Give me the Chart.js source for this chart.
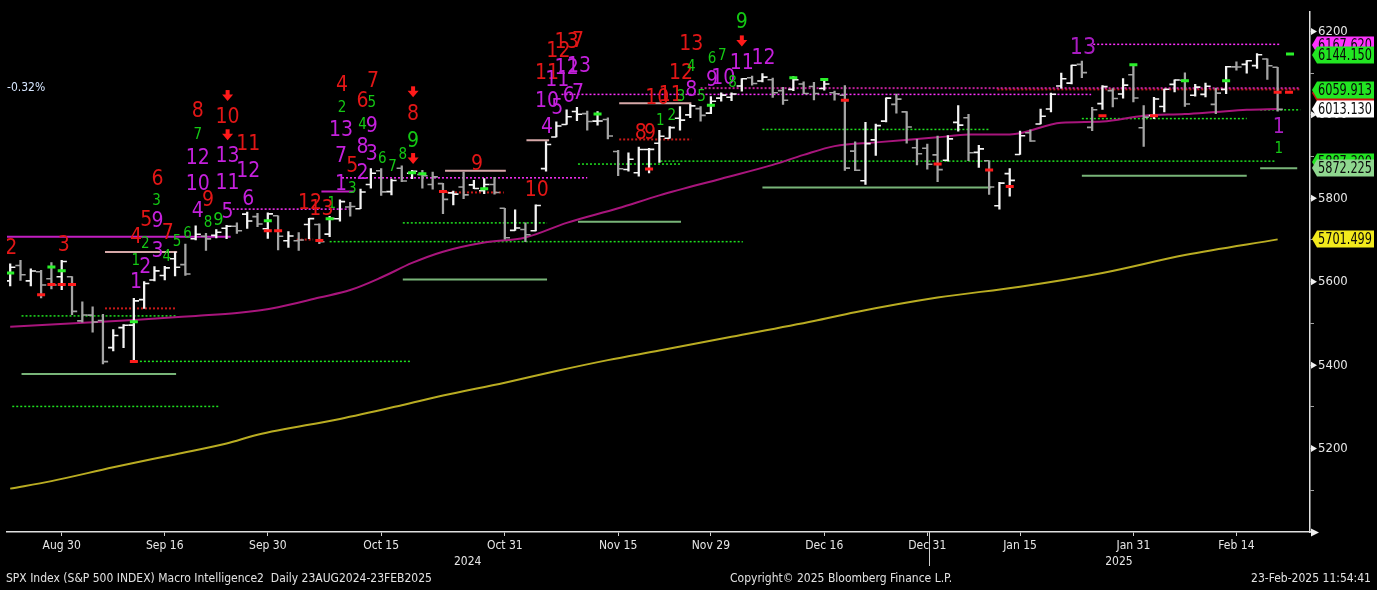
<!DOCTYPE html>
<html>
<head>
<meta charset="utf-8">
<script src="https://cdn.jsdelivr.net/npm/chart.js@4.4.1/dist/chart.umd.min.js"></script>
<style>
  html,body{margin:0;padding:0;background:#000;}
  #wrap{position:relative;width:1377px;height:590px;background:#000;overflow:hidden;}
  .t{position:absolute;color:#e2e2e2;font:12px "DejaVu Sans Condensed","Liberation Sans Narrow","Liberation Sans",sans-serif;white-space:pre;line-height:14px;}
</style>
</head>
<body>
<div id="wrap">
  <canvas id="c" width="1377" height="590"></canvas>
  <div class="t" style="left:7px;top:80px;color:#d6e6ff;">-0.32%</div>
  <div class="t" style="left:6px;top:571px;">SPX Index (S&amp;P 500 INDEX) Macro Intelligence2  Daily 23AUG2024-23FEB2025</div>
  <div class="t" style="left:730px;top:571px;">Copyright© 2025 Bloomberg Finance L.P.</div>
  <div class="t" style="right:6px;top:571px;">23-Feb-2025 11:54:41</div>
</div>
<script>
// ---------------- DATA ----------------
const dates = ['2024-08-23','2024-08-26','2024-08-27','2024-08-28','2024-08-29','2024-08-30','2024-09-03','2024-09-04','2024-09-05','2024-09-06',
'2024-09-09','2024-09-10','2024-09-11','2024-09-12','2024-09-13','2024-09-16','2024-09-17','2024-09-18','2024-09-19','2024-09-20',
'2024-09-23','2024-09-24','2024-09-25','2024-09-26','2024-09-27','2024-09-30','2024-10-01','2024-10-02','2024-10-03','2024-10-04',
'2024-10-07','2024-10-08','2024-10-09','2024-10-10','2024-10-11','2024-10-14','2024-10-15','2024-10-16','2024-10-17','2024-10-18',
'2024-10-21','2024-10-22','2024-10-23','2024-10-24','2024-10-25','2024-10-28','2024-10-29','2024-10-30','2024-10-31','2024-11-01',
'2024-11-04','2024-11-05','2024-11-06','2024-11-07','2024-11-08','2024-11-11','2024-11-12','2024-11-13','2024-11-14','2024-11-15',
'2024-11-18','2024-11-19','2024-11-20','2024-11-21','2024-11-22','2024-11-25','2024-11-26','2024-11-27','2024-11-29','2024-12-02',
'2024-12-03','2024-12-04','2024-12-05','2024-12-06','2024-12-09','2024-12-10','2024-12-11','2024-12-12','2024-12-13','2024-12-16',
'2024-12-17','2024-12-18','2024-12-19','2024-12-20','2024-12-23','2024-12-24','2024-12-26','2024-12-27','2024-12-30','2024-12-31',
'2025-01-02','2025-01-03','2025-01-06','2025-01-07','2025-01-08','2025-01-10','2025-01-13','2025-01-14','2025-01-15','2025-01-16',
'2025-01-17','2025-01-21','2025-01-22','2025-01-23','2025-01-24','2025-01-27','2025-01-28','2025-01-29','2025-01-30','2025-01-31',
'2025-02-03','2025-02-04','2025-02-05','2025-02-06','2025-02-07','2025-02-10','2025-02-11','2025-02-12','2025-02-13','2025-02-14',
'2025-02-18','2025-02-19','2025-02-20','2025-02-21'];

const opens = [5602,5639,5602,5624,5607,5612,5612,5506,5520,5507,
5442,5490,5496,5557,5604,5615,5655,5641,5703,5709,
5711,5728,5733,5762,5756,5727,5758,5698,5698,5737,
5737,5714,5751,5779,5775,5833,5866,5816,5872,5860,
5857,5833,5835,5813,5827,5832,5818,5833,5776,5723,
5725,5722,5871,5947,5977,6008,6003,5985,5989,5912,
5869,5861,5917,5932,5944,5992,6000,6015,6004,6040,
6042,6069,6089,6081,6084,6058,6061,6074,6068,6063,
6053,6047,5913,5842,5940,5985,6025,6007,5921,5920,
5904,5891,5982,5993,5910,5890,5782,5859,5905,5957,
5978,6014,6069,6076,6121,5970,6027,6058,6050,6096,
5969,5998,6020,6073,6083,6047,6049,6025,6061,6115,
6121,6118,6134,6114];

const highs = [5643,5651,5631,5627,5646,5651,5612,5552,5540,5522,
5485,5497,5560,5600,5636,5637,5671,5690,5734,5716,
5725,5735,5741,5767,5764,5765,5758,5720,5718,5752,
5739,5757,5796,5790,5822,5871,5871,5846,5878,5867,
5867,5863,5836,5817,5863,5843,5847,5850,5776,5772,
5741,5784,5936,5983,6012,6018,6009,6008,5993,5915,
5909,5923,5920,5963,5972,6020,6025,6020,6044,6053,
6053,6087,6093,6099,6088,6066,6092,6079,6078,6085,
6057,6070,5935,5982,5978,6041,6050,6008,5941,5930,
5949,5950,6022,6001,5927,5890,5838,5871,5961,5964,
6014,6052,6100,6119,6129,6018,6070,6063,6087,6121,
6022,6042,6062,6084,6101,6073,6076,6064,6116,6127,
6130,6147,6134,6114];

const lows = [5590,5603,5590,5561,5583,5581,5521,5503,5479,5403,
5434,5442,5407,5536,5602,5604,5614,5615,5700,5675,
5705,5703,5716,5728,5732,5704,5676,5682,5675,5703,
5691,5708,5745,5757,5775,5824,5807,5808,5840,5847,
5824,5822,5763,5784,5799,5823,5811,5810,5702,5723,
5696,5722,5865,5947,5977,5986,5963,5975,5942,5854,
5865,5853,5861,5886,5944,5963,5993,5985,6003,6033,
6034,6057,6071,6079,6042,6025,6058,6051,6036,6059,
6035,5867,5866,5833,5903,5983,6004,5932,5880,5870,
5840,5889,5961,5890,5874,5809,5774,5805,5905,5936,
5978,6007,6064,6074,6089,5962,6013,6019,6040,6031,
5924,5991,6007,6055,6020,6045,6043,6003,6051,6107,
6100,6111,6085,6009];

const closes = [5634.6,5616.8,5625.8,5592.2,5592.0,5648.4,5528.9,5520.1,5503.4,5408.4,
5471.1,5495.5,5554.1,5595.8,5626.0,5633.1,5634.6,5618.3,5713.6,5702.6,
5718.6,5732.9,5722.3,5745.4,5738.2,5762.5,5708.8,5709.5,5699.9,5751.1,
5695.9,5751.1,5792.0,5780.1,5815.0,5859.9,5815.3,5842.5,5841.5,5864.7,
5854.0,5851.2,5797.4,5809.9,5808.1,5823.5,5832.9,5813.7,5705.5,5728.8,
5712.7,5782.8,5929.0,5973.1,5995.5,6001.4,5984.0,5985.4,5949.2,5870.6,
5893.6,5917.0,5917.1,5948.7,5969.3,5987.4,6021.6,5998.7,6032.4,6047.2,
6049.9,6086.5,6075.1,6090.3,6052.9,6034.9,6084.2,6051.3,6051.1,6074.1,
6050.6,5872.2,5867.1,5930.9,5974.1,6040.0,6037.6,5970.8,5906.9,5881.6,
5868.6,5942.5,5975.4,5909.0,5918.3,5827.0,5836.2,5842.9,5949.9,5937.3,
5996.7,6049.2,6086.4,6118.7,6101.2,6012.3,6067.7,6039.3,6071.2,6040.5,
5994.6,6037.9,6061.5,6083.6,6026.0,6066.4,6068.5,6052.0,6115.1,6114.6,
6129.6,6144.2,6117.5,6013.1];

// moving averages: [bar index, value]
const ma50 = [[0,5492],[12,5508],[18,5518],[22,5525],[26,5539],[30,5562],[33,5580],[36,5610],[39,5645],[42,5672],
[46,5694],[50,5706],[54,5741],[59,5776],[63,5807],[69,5847],[74,5880],[77,5904],[80,5925],[84,5934],
[90,5946],[93,5953],[97,5953],[102,5981],[106,5984],[110,5998],[114,6002],[117,6007],[120,6012],[123,6014]];
const ma200 = [[0,5104],[4,5122],[10,5155],[16,5186],[21,5212],[24,5233],[32,5271],[38,5304],[42,5327],[48,5358],
[53,5386],[58,5412],[63,5435],[70,5468],[78,5506],[82,5527],[90,5562],[98,5588],[106,5621],[114,5664],[123,5701.5]];

// horizontal study levels: [from index, to index, value, style]
const levelLines = [
 [-0.4,21.4,5708,'magSolid'],
 [9.2,16.2,5671,'pink'],
 [9.2,16.1,5536,'redDot'],
 [1.1,16.1,5518,'grnDot'],
 [12.2,38.9,5409,'grnDot'],
 [1.1,16.1,5379,'grnSolid'],
 [0.2,20.2,5301,'grnDot'],
 [30.2,33.4,5816,'magSolid'],
 [21.2,33.0,5774,'magDot'],
 [27.8,29.4,5701,'redDot'],
 [32.2,56.0,5849,'magDot'],
 [42.2,48.1,5866,'pink'],
 [42.0,47.9,5814,'redDot'],
 [38.1,52.1,5741,'grnDot'],
 [38.1,52.1,5605,'grnSolid'],
 [31.0,71.1,5696,'grnDot'],
 [50.1,52.3,5939,'pink'],
 [55.1,65.1,5744,'grnSolid'],
 [55.1,65.1,5882,'grnDot'],
 [63.1,122.8,5889,'grnDot'],
 [59.1,66.1,6028,'pink'],
 [59.1,66.1,5941,'redDot'],
 [53.5,104.9,6049,'magDot'],
 [67.0,125.2,6064,'mrDot'],
 [95.8,125.2,6061,'redDot'],
 [73.0,95.0,5965,'grnDot'],
 [73.0,95.2,5826,'grnSolid'],
 [104.0,120.0,5991,'grnDot'],
 [104.0,120.0,5854,'grnSolid'],
 [121.3,124.9,5872,'grnSolid'],
 [121.3,125.2,6012,'grnDot'],
 [105.1,123.2,6169,'magDot']
];

// small marker dashes: [index, value]
const greenMarks = [[0,5621],[4,5635],[5,5626],[12,5504],[25,5746],[31,5751],[39,5861],[40,5859],[46,5823],[57,6002],
[68,6023],[76,6089],[79,6085],[109,6120],[114,6082],[118,6082],[124.2,6146]];
const redMarks = [[3,5569],[4,5593],[5,5593],[6,5593],[12,5409],[25,5722],[26,5722],[30,5699],[42,5816],[62,5870],
[81,6035],[90,5882],[95,5868],[97,5828],[106,5998],[111,5998],[123,6054],[124.1,6054]];

// sequential counts: [index, value, text, colour, font size]
const tdLabels = [
 [0.1,5680,'2','R',21],[5.2,5687,'3','R',21],[14.3,5845,'6','R',21],[14.2,5793,'3','G',15],[13.2,5746,'5','R',21],
 [14.3,5744,'9','M',21],[15.3,5715,'7','R',21],[12.2,5706,'4','R',21],[13.1,5689,'2','G',15],[14.3,5673,'3','M',21],
 [16.2,5694,'5','G',15],[15.2,5659,'4','G',15],[12.2,5649,'1','G',15],[13.1,5635,'2','M',21],[12.2,5598,'1','M',21],
 [17.2,5713,'6','G',15],[18.2,6007,'8','R',21],[18.2,5951,'7','G',15],[18.2,5896,'12','M',21],[18.2,5833,'10','M',21],
 [18.2,5767,'4','M',21],[19.2,5741,'8','G',15],[19.2,5795,'9','R',21],[20.2,5746,'9','G',18],[21.1,5765,'5','M',21],
 [21.1,5993,'10','R',21],[21.1,5899,'13','M',21],[21.1,5835,'11','M',21],[23.1,5929,'11','R',21],[23.1,5864,'12','M',21],
 [23.1,5798,'6','M',21],
 [32.2,6071,'4','R',21],[35.2,6080,'7','R',21],[32.2,6016,'2','G',15],[34.2,6033,'6','R',21],[35.1,6028,'5','G',15],
 [32.1,5962,'13','M',21],[34.2,5976,'4','G',15],[35.1,5972,'9','M',21],[32.1,5899,'7','M',21],[34.2,5922,'8','M',21],
 [35.1,5906,'3','M',21],[36.1,5894,'6','G',15],[38.1,5904,'8','G',15],[37.1,5875,'7','G',15],[33.2,5875,'5','R',21],
 [34.2,5859,'2','M',21],[32.1,5833,'1','M',21],[33.2,5821,'3','G',15],[31.2,5786,'1','G',15],[29.1,5788,'12','R',21],
 [30.2,5774,'13','R',21],[39.1,6000,'8','R',21],[39.1,5936,'9','G',21],[45.3,5880,'9','R',21],[51.1,5819,'10','R',21],
 [54.0,6174,'13','R',21],[55.1,6176,'7','R',21],[53.2,6151,'12','R',21],[52.1,6099,'11','R',21],[54.0,6111,'12','M',21],
 [55.2,6115,'13','M',21],[53.1,6082,'11','M',21],[52.1,6033,'10','M',21],[53.1,6016,'5','M',21],[54.2,6045,'6','M',21],
 [55.1,6052,'7','M',21],[52.1,5969,'4','M',21],
 [61.2,5955,'8','R',21],[62.1,5955,'9','R',21],[62.8,6040,'10','R',21],[64.1,6047,'11','R',21],[63.1,5986,'1','G',15],
 [64.2,5998,'2','G',15],[65.1,6042,'3','G',15],[65.1,6099,'12','R',21],[66.1,6115,'4','G',15],[66.1,6169,'13','R',21],
 [66.1,6059,'8','M',21],[67.1,6042,'5','G',15],[68.1,6134,'6','G',15],[69.1,6141,'7','G',15],[68.1,6082,'9','M',21],
 [69.2,6087,'10','M',21],[70.1,6075,'8','G',15],[71.0,6221,'9','G',21],[71.0,6122,'11','M',21],[73.1,6134,'12','M',21],
 [104.1,6160,'13','M',23],[123.1,5969,'1','M',21],[123.1,5918,'1','G',15]
];
const arrows = [[21.1,6045],[21.1,5951],[39.1,6054],[39.1,5894],[71.0,6176]];

// right-hand value tags: [value, colour, text]
const valueBoxes = [
 [6167.62,'#ff33ff','6167.620'],
 [6144.15,'#22e622','6144.150'],
 [6053.0,'#cc1111',''],
 [6059.913,'#22e622','6059.913'],
 [6013.13,'#ffffff','6013.130'],
 [5887.3,'#22e622','5887.300'],
 [5872.225,'#8fd68f','5872.225'],
 [5701.499,'#f2ea1c','5701.499']
];

const xTickLabels = {5:'Aug 30',15:'Sep 16',25:'Sep 30',36:'Oct 15',48:'Oct 31',59:'Nov 15',68:'Nov 29',79:'Dec 16',89:'Dec 31',98:'Jan 15',109:'Jan 31',119:'Feb 14'};
const yearLabels = [[44.4,'2024'],[107.6,'2025']];
const yTickLabels = [6200,6000,5800,5600,5400,5200];

// ---------------- STYLE ----------------
const NARROW = '"Liberation Sans Narrow","Arial Narrow","DejaVu Sans Condensed","Liberation Sans",sans-serif';
const AXFONT = '"DejaVu Sans Condensed","Liberation Sans",sans-serif';
const COL = {R:'#e21616', M:'#c420dc', G:'#14c814'};
const LS = {
  grnDot:{c:'#1fe01f', d:[2,2], w:1.5},
  magDot:{c:'#ff30ff', d:[2,2], w:1.5},
  redDot:{c:'#c81818', d:[2,2], w:2},
  mrDot:{c:'#c0209a', d:[2,2], w:2},
  grnSolid:{c:'#78b478', d:[], w:2},
  pink:{c:'#d6a8a8', d:[], w:2},
  magSolid:{c:'#c21ec2', d:[], w:2}
};

Chart.defaults.font.family = AXFONT;

const idx = dates.map((_, i) => i);
const barCol = closes.map((c, i) => (i === 0 || c >= closes[i - 1]) ? '#f4f4f4' : '#a4a4a4');

const datasets = [];
levelLines.forEach(([a, b, v, s]) => {
  datasets.push({type:'line', data:[{x:a, y:v},{x:b, y:v}], borderColor:LS[s].c, borderDash:LS[s].d,
    borderWidth:LS[s].w, pointRadius:0, order:10});
});
datasets.push({type:'line', data:ma200.map(([x, y]) => ({x, y})), borderColor:'#b9ac22', borderWidth:2,
  pointRadius:0, cubicInterpolationMode:'monotone', order:6});
datasets.push({type:'line', data:ma50.map(([x, y]) => ({x, y})), borderColor:'#a8157c', borderWidth:2,
  pointRadius:0, cubicInterpolationMode:'monotone', order:6});
datasets.push({type:'bar', data:idx.map(i => ({x:i, y:[lows[i], highs[i]]})), backgroundColor:barCol,
  barThickness:1.6, order:3});
datasets.push({type:'scatter', data:idx.map(i => ({x:i - 0.25, y:opens[i]})), pointStyle:'line',
  pointRadius:2.6, pointBorderWidth:1.6, pointBorderColor:barCol, order:2});
datasets.push({type:'scatter', data:idx.map(i => ({x:i + 0.25, y:closes[i]})), pointStyle:'line',
  pointRadius:2.6, pointBorderWidth:1.6, pointBorderColor:barCol, order:2});
datasets.push({type:'scatter', data:greenMarks.map(([x, y]) => ({x, y})), pointStyle:'line',
  pointRadius:4, pointBorderWidth:3, pointBorderColor:'#2af02a', order:1});
datasets.push({type:'scatter', data:redMarks.map(([x, y]) => ({x, y})), pointStyle:'line',
  pointRadius:4, pointBorderWidth:3, pointBorderColor:'#ff1c1c', order:1});

const overlay = {
  id:'overlay',
  afterDatasetsDraw(chart) {
    const {ctx, chartArea:a, scales:{x, y}} = chart;
    ctx.save();
    ctx.beginPath(); ctx.rect(a.left, 0, a.right - a.left, a.bottom); ctx.clip();
    ctx.textAlign = 'center'; ctx.textBaseline = 'middle';
    for (const [i, v, t, c, s] of tdLabels) {
      ctx.font = s + 'px ' + NARROW;
      ctx.fillStyle = (c === 'M' && i > 100) ? '#a81cc0' : COL[c];
      ctx.fillText(t, x.getPixelForValue(i), y.getPixelForValue(v));
    }
    ctx.fillStyle = '#ff1a1a';
    for (const [i, v] of arrows) {
      const px = x.getPixelForValue(i), py = y.getPixelForValue(v);
      ctx.fillRect(px - 2, py - 6, 4, 5);
      ctx.beginPath(); ctx.moveTo(px - 5.5, py - 1.5); ctx.lineTo(px + 5.5, py - 1.5); ctx.lineTo(px, py + 5); ctx.closePath(); ctx.fill();
    }
    ctx.restore();
  },
  afterDraw(chart) {
    const {ctx, chartArea:a, scales:{x, y}} = chart;
    ctx.save();
    // right axis label markers
    ctx.fillStyle = '#f0f0f0';
    for (const v of yTickLabels) {
      const py = y.getPixelForValue(v);
      ctx.beginPath(); ctx.moveTo(a.right + 1, py - 3.5); ctx.lineTo(a.right + 7, py); ctx.lineTo(a.right + 1, py + 3.5); ctx.closePath(); ctx.fill();
    }
    // x axis arrow
    ctx.beginPath(); ctx.moveTo(a.right + 1, a.bottom - 3.5); ctx.lineTo(a.right + 9, a.bottom + 0.5); ctx.lineTo(a.right + 1, a.bottom + 4.5); ctx.closePath(); ctx.fill();
    // value tags
    ctx.textAlign = 'left'; ctx.textBaseline = 'middle';
    ctx.font = '15px ' + NARROW;
    const tx = a.right + 8, maxW = 1372 - tx;
    for (const [v, bg, t] of valueBoxes) {
      const py = Math.round(y.getPixelForValue(v));
      ctx.fillStyle = bg;
      ctx.beginPath();
      ctx.moveTo(a.right + 2, py); ctx.lineTo(a.right + 7, py - 8.5); ctx.lineTo(1374, py - 8.5);
      ctx.lineTo(1374, py + 8.5); ctx.lineTo(a.right + 7, py + 8.5); ctx.closePath(); ctx.fill();
      if (t) {
        const w = ctx.measureText(t).width;
        ctx.save();
        ctx.fillStyle = '#0a0a0a';
        ctx.translate(tx, py + 1);
        ctx.scale(Math.min(1, maxW / w), 1);
        ctx.fillText(t, 0, 0);
        ctx.restore();
      }
    }
    // year labels and year separator
    ctx.fillStyle = '#e6e6e6'; ctx.textAlign = 'center';
    ctx.font = '12px ' + AXFONT;
    for (const [i, t] of yearLabels) ctx.fillText(t, x.getPixelForValue(i), 562);
    ctx.strokeStyle = '#cfcfcf'; ctx.lineWidth = 1;
    const sx = Math.round(x.getPixelForValue(89.2)) + 0.5;
    ctx.beginPath(); ctx.moveTo(sx, a.bottom); ctx.lineTo(sx, 566); ctx.stroke();
    ctx.restore();
  }
};

new Chart(document.getElementById('c'), {
  type:'bar',
  data:{datasets},
  options:{
    responsive:false, animation:false, events:[],
    layout:{padding:{top:2, left:0, right:0, bottom:0}},
    plugins:{legend:{display:false}, tooltip:{enabled:false}},
    scales:{
      x:{type:'linear', min:-0.31, max:126.14, offset:false,
        grid:{display:true, drawOnChartArea:false, offset:false, color:'#cfcfcf', tickLength:4},
        border:{color:'#e0e0e0', width:1.5},
        ticks:{color:'#e6e6e6', font:{size:12}, padding:3, autoSkip:false, maxRotation:0,
          callback:v => xTickLabels[v] ?? ''},
        afterBuildTicks:s => { s.ticks = Object.keys(xTickLabels).map(k => ({value:+k})); },
        afterFit:s => { s.height = 58; }
      },
      y:{position:'right', min:5000, max:6247,
        grid:{drawOnChartArea:false, color:'#a0a0a0', tickLength:4},
        border:{color:'#e0e0e0', width:1.5},
        ticks:{color:'#e6e6e6', font:{size:13}, padding:4,
          callback:v => yTickLabels.includes(v) ? String(v) : ''},
        afterBuildTicks:s => { const t = []; for (let v = 5000; v <= 6200; v += 100) t.push({value:v}); s.ticks = t; },
        afterFit:s => { s.width = 67; }
      }
    }
  },
  plugins:[overlay]
});
</script>
</body>
</html>
